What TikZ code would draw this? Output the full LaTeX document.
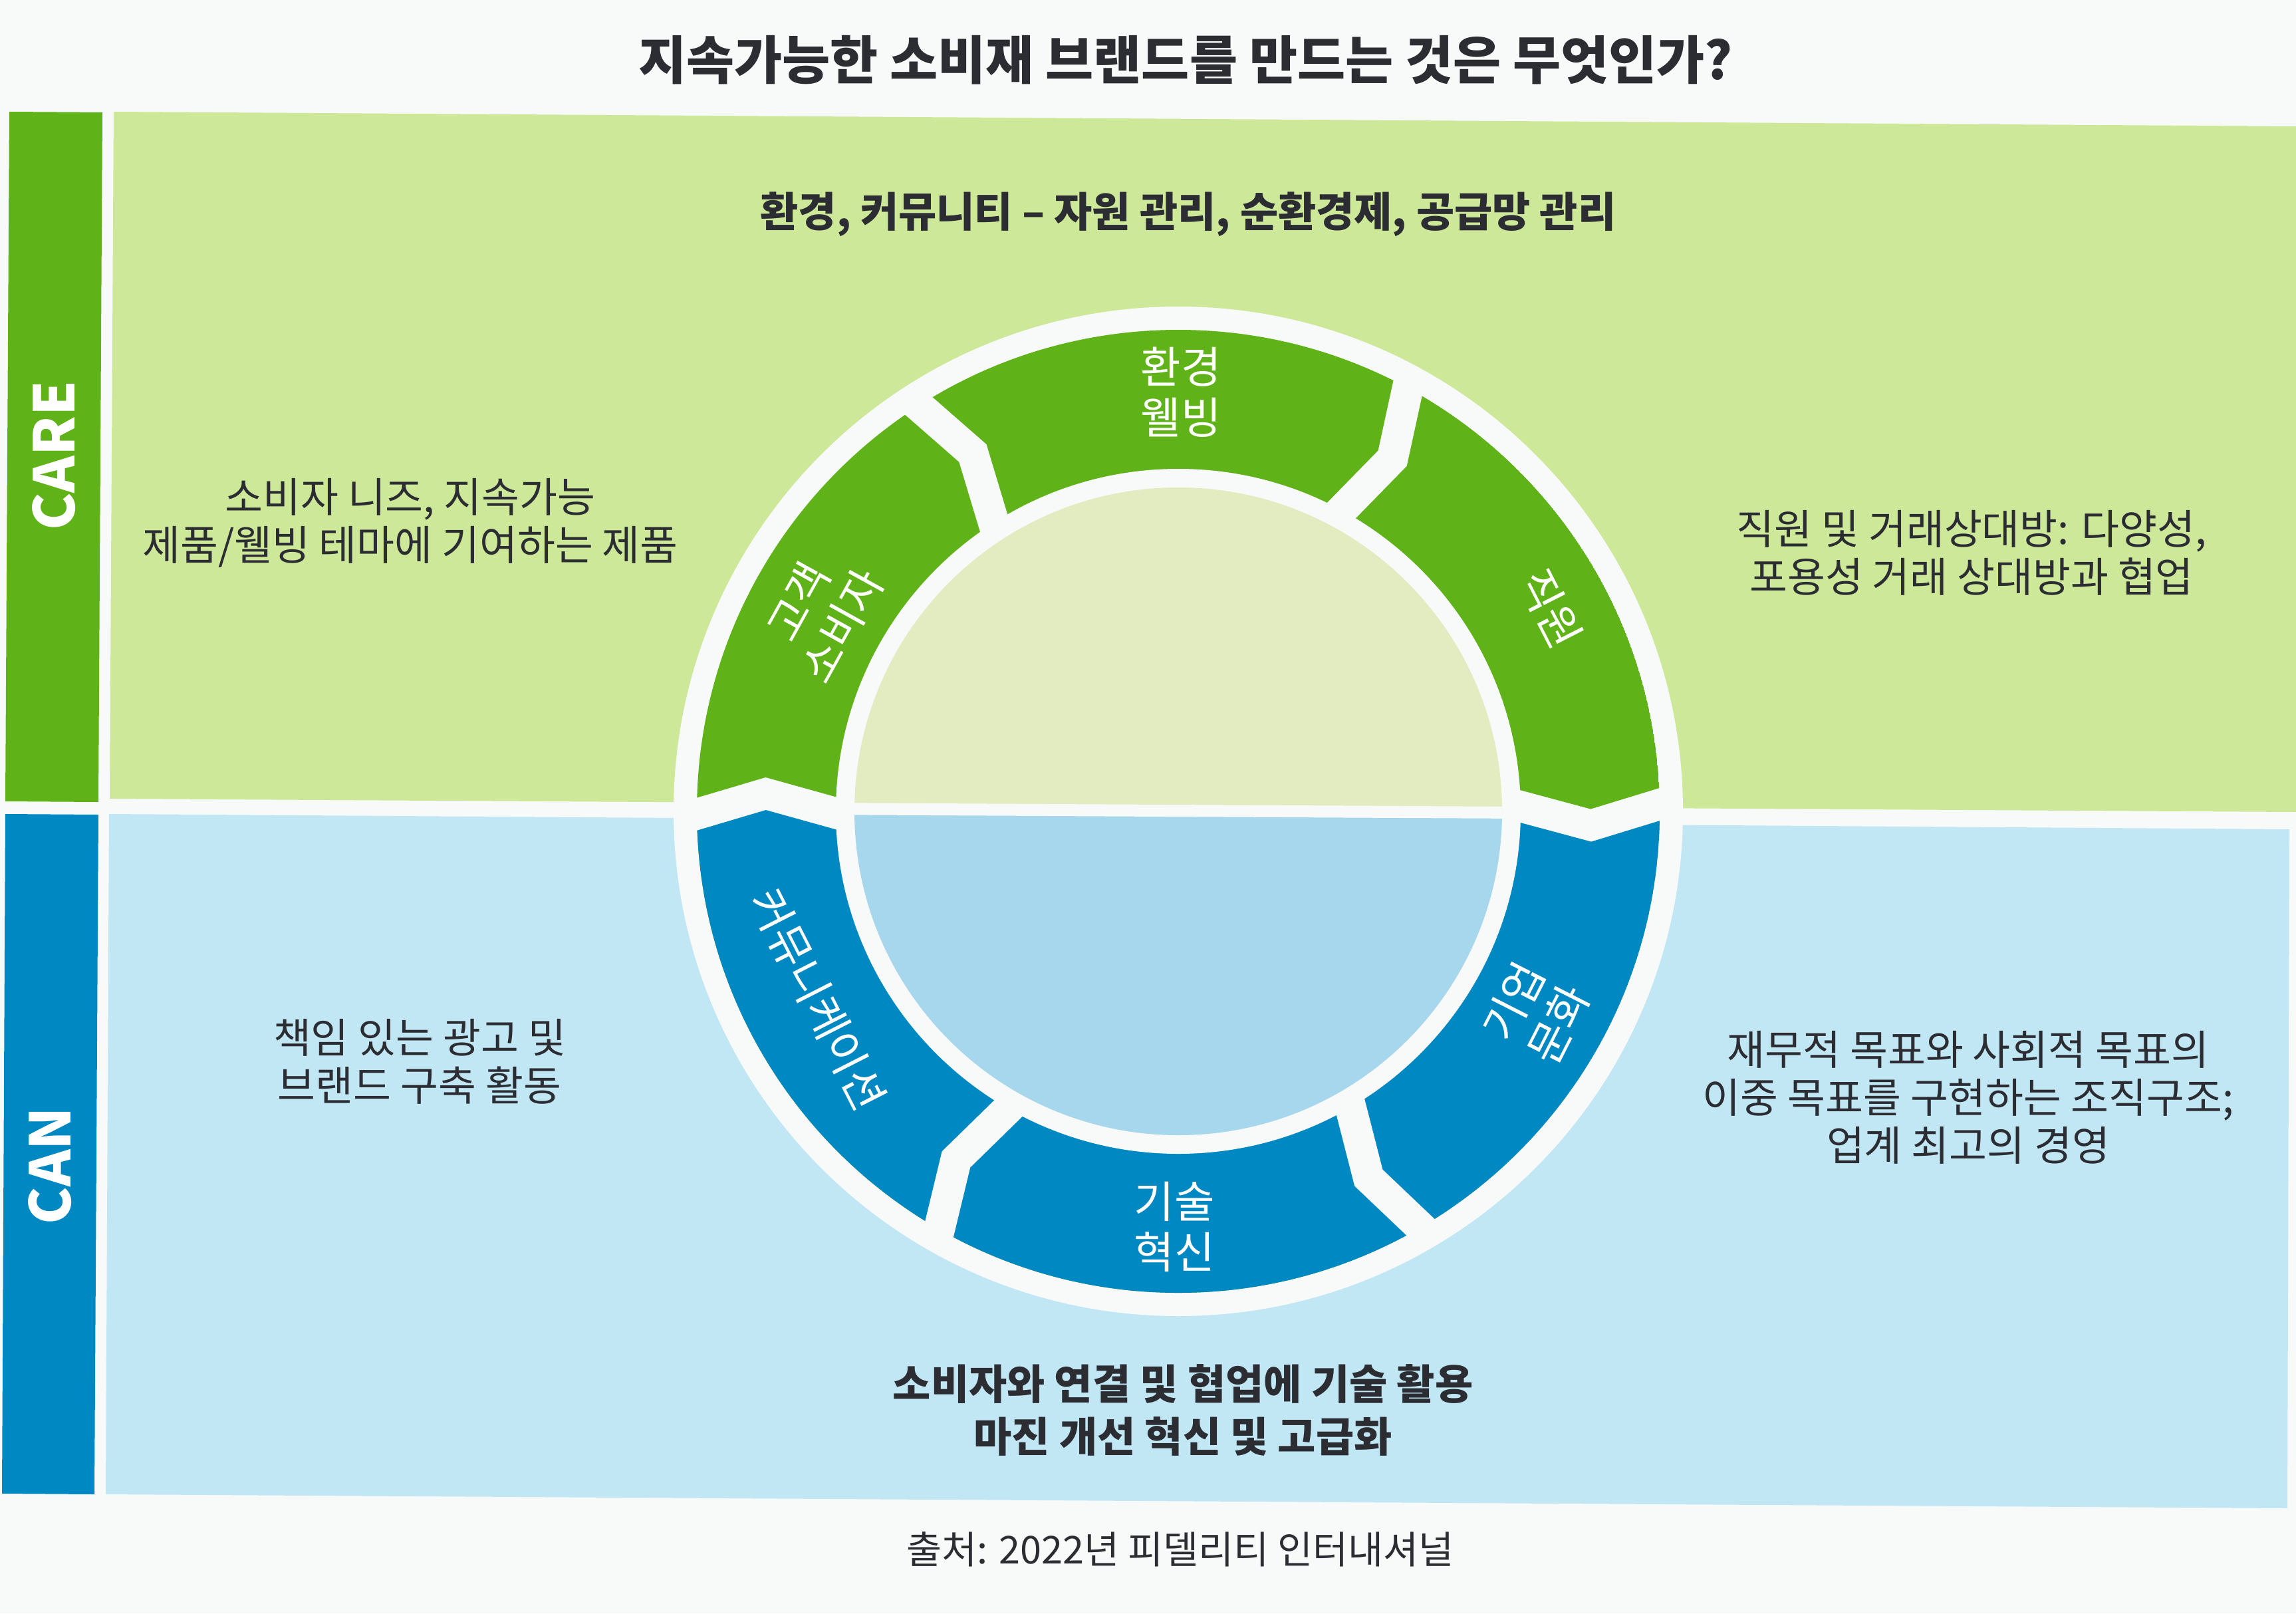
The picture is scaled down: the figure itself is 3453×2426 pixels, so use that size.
\documentclass[tikz,border=0pt]{standalone}
\usepackage{fontspec}
\setmainfont{Noto Sans CJK KR}
\definecolor{bgc}{HTML}{F8F9F9}
\definecolor{gdark}{HTML}{5FB318}
\definecolor{glight}{HTML}{CDE898}
\definecolor{gdisc}{HTML}{E3EBC1}
\definecolor{bdark}{HTML}{0088C2}
\definecolor{blight}{HTML}{C1E6F4}
\definecolor{bdisc}{HTML}{A7D7EC}
\definecolor{txtc}{HTML}{2B2D33}
\begin{document}
\begin{tikzpicture}[x=0.1mm,y=-0.1mm,
  txt/.style={inner sep=0pt, align=center, text=txtc, font=\fontsize{17.6}{20.5}\selectfont},
  txtb/.style={txt, font=\fontsize{17.7}{22.5}\selectfont\bfseries},
  ringlbl/.style={inner sep=0pt, align=center, text=white, font=\fontsize{18.7}{21.5}\selectfont},
  sidelbl/.style={inner sep=0pt, text=white, font=\fontsize{24}{28}\selectfont\bfseries, rotate=90},
  sepline/.style={draw=bgc, line width=4.7mm, line join=miter, line cap=butt}]
\useasboundingbox (0,0) rectangle (3453,2426);
\fill[bgc] (0,0) rectangle (3453,2426);
% panels
\fill[glight] (171,168) -- (3453,190) -- (3453,1221) -- (165,1201) -- cycle;
\fill[blight] (164,1224) -- (3443,1247) -- (3440,2268) -- (159,2247) -- cycle;
\fill[gdark] (14,168) -- (154,169) -- (148,1206) -- (8,1205) -- cycle;
\fill[bdark] (8,1224) -- (148,1225) -- (142,2247) -- (3,2246) -- cycle;
% ring
\begin{scope}[shift={(1772,1220)}, yscale=-1]
  \fill[bgc] (0,0) circle (759);
  \begin{scope}
    \clip (0,0) circle (724);
    \fill[gdark] (0,0) circle (724);
    \fill[bdark] (180.8:900) -- (180.8:745) -- (177.55:621) -- (180.8:500) -- (1.3:500)
      -- (-1.95:621) -- (1.3:745) -- (1.3:900) -- (-45:1300) -- (-135:1300) -- cycle;
  \end{scope}
  \fill[bgc] (0,0) circle (515);
  \foreach \b in {1.3,62.0,123.1,180.8,240.7,300.7}
    \draw[sepline] (\b:745) -- ({\b-3.25}:621) -- (\b:500);
  \begin{scope}
    \clip (0,0) circle (487);
    \fill[gdisc] (-500,3.7) -- (500,-1.9) -- (500,500) -- (-500,500) -- cycle;
    \fill[bdisc] (-500,3.7) -- (500,-1.9) -- (500,-500) -- (-500,-500) -- cycle;
    \draw[bgc, line width=1.8mm] (-500,3.7) -- (500,-1.9);
  \end{scope}
\end{scope}
% ring labels
\node[ringlbl] (env) at (1776,590) {환경\\웰빙};
\node[ringlbl, rotate=-63] (emp) at (2332,915) {직원};
\node[ringlbl, rotate=61] (cust) at (1233,923) {고객\\소비자};
\node[ringlbl, rotate=-63] (comm) at (1230,1503) {커뮤니케이션};
\node[ringlbl] (tech) at (1766,1845) {기술\\혁신};
\node[ringlbl, rotate=63] (cult) at (2310,1523) {기업\\문화};
% side labels
\node[sidelbl] (care) at (81,685) {CARE};
\node[sidelbl] (can) at (75,1753) {CAN};
% texts
\node[txt, font=\fontsize{22.3}{25}\selectfont\bfseries] (title) at (1783,90) {지속가능한 소비재 브랜드를 만드는 것은 무엇인가?};
\node[txtb] (sub) at (1787,322) {환경, 커뮤니티 – 자원 관리, 순환경제, 공급망 관리};
\node[txt] (careL) at (617,786) {소비자 니즈, 지속가능\\제품/웰빙 테마에 기여하는 제품};
\node[txt] (careR) at (2965,831) {직원 및 거래상대방: 다양성,\\포용성 거래 상대방과 협업};
\node[txt] (canL) at (631,1596) {책임 있는 광고 및\\브랜드 구축 활동};
\node[txt] (canR) at (2960,1650) {재무적 목표와 사회적 목표의\\이중 목표를 구현하는 조직구조;\\업계 최고의 경영};
\node[txtb] (bottom) at (1779,2120) {소비자와 연결 및 협업에 기술 활용\\마진 개선 혁신 및 고급화};
\node[txt, font=\fontsize{16.4}{18}\selectfont] (src) at (1775,2330) {출처: 2022년 피델리티 인터내셔널};
\end{tikzpicture}
\end{document}
